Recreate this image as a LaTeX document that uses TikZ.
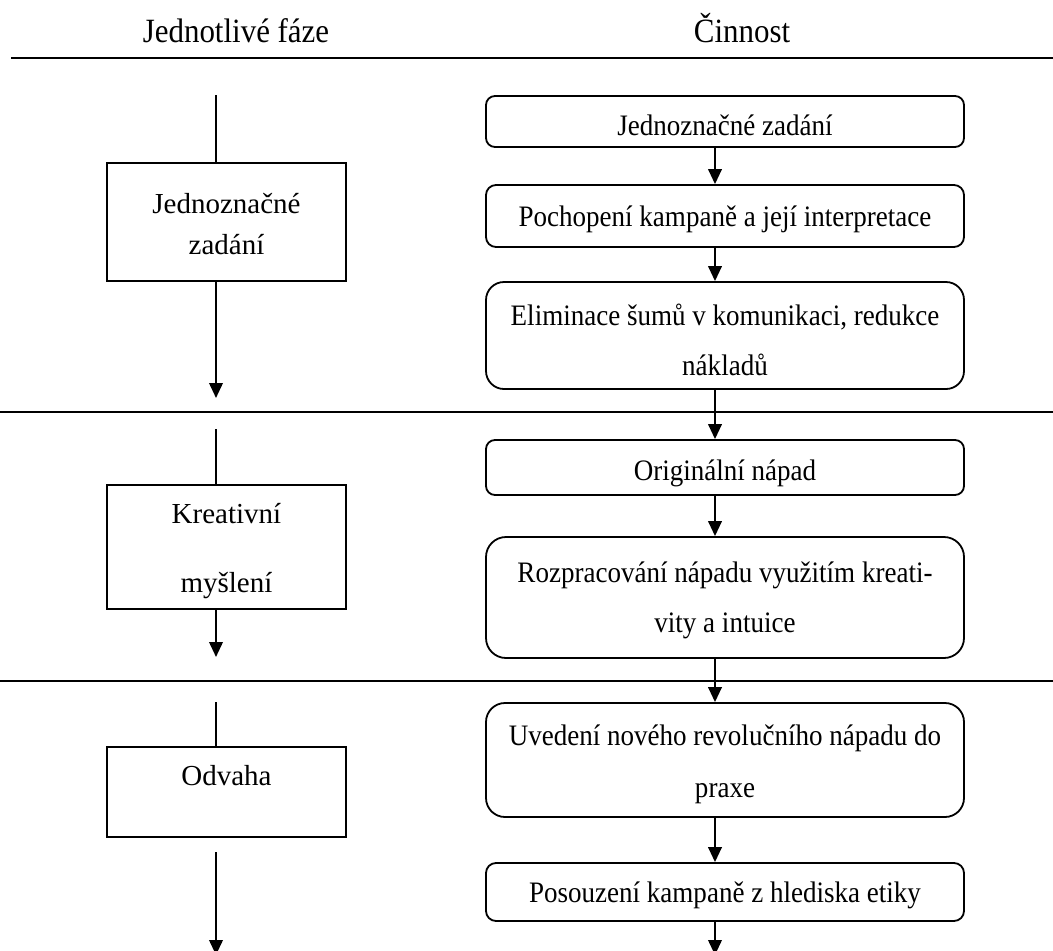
\documentclass[tikz,border=0pt]{standalone}
\usepackage{fontspec}
\setmainfont{Liberation Serif}
\newfontfamily\tallserif[FakeStretch=0.91]{Liberation Serif}
\usetikzlibrary{arrows.meta}
\begin{document}
\begin{tikzpicture}[x=1pt,y=-1pt,
  txt/.style={anchor=base,inner sep=0pt,font=\tallserif\fontsize{29.7}{30}\selectfont},
  ptxt/.style={anchor=base,inner sep=0pt,font=\fontsize{29}{29}\selectfont},
  head/.style={anchor=base,inner sep=0pt,font=\tallserif\fontsize{34}{34}\selectfont},
  phasebox/.style={draw,line width=1.8pt,minimum width=239pt,inner sep=0pt},
  stepbox/.style={draw,line width=1.8pt,minimum width=478pt,inner sep=0pt},
  sepline/.style={line width=2pt},
  feed/.style={line width=1.5pt},
  flow/.style={line width=2.2pt,-{Triangle[length=15pt,width=13.5pt]}}]
\useasboundingbox (0,0) rectangle (1053,951);

% column headings
\node[head] (h1) at (236,42) {Jednotlivé fáze};
\node[head] (h2) at (742,42) {Činnost};

% separators between the phases
\coordinate (s0a) at (11,58);   \coordinate (s0b) at (1053,58);
\coordinate (s1a) at (0,412);   \coordinate (s1b) at (1053,412);
\coordinate (s2a) at (0,681);   \coordinate (s2b) at (1053,681);
\draw[sepline,line width=2.6pt] (s0a) -- (s0b);
\draw[sepline] (s1a) -- (s1b);
\draw[sepline] (s2a) -- (s2b);

% x positions of the flow lines
\coordinate (L) at (216,0);
\coordinate (R) at (715,0);

% ---- phases (left column) ----
\node[phasebox,minimum height=118pt] (p1) at (226.5,222) {};
\node[ptxt] (p1a) at (226.5,213) {Jednoznačné};
\node[ptxt] (p1b) at (226.5,254) {zadání};

\node[phasebox,minimum height=124pt] (p2) at (226.5,547) {};
\node[ptxt] (p2a) at (226.5,523) {Kreativní};
\node[ptxt] (p2b) at (226.5,592) {myšlení};

\node[phasebox,minimum height=90pt] (p3) at (226.5,792) {};
\node[ptxt] (p3a) at (226.5,785) {Odvaha};

\coordinate (l1top) at (216,95);  \coordinate (l1end) at (216,398);
\coordinate (l2top) at (216,429); \coordinate (l2end) at (216,657);
\coordinate (l3top) at (216,702); \coordinate (l3beg) at (216,852);
\coordinate (l3end) at (216,955);
\draw[feed] (l1top) -- (l1top |- p1.north);
\draw[flow] (L |- p1.south) -- (l1end);
\draw[feed] (l2top) -- (l2top |- p2.north);
\draw[flow] (L |- p2.south) -- (l2end);
\draw[feed] (l3top) -- (l3top |- p3.north);
\draw[flow] (l3beg) -- (l3end);

% ---- activities (right column) ----
\node[stepbox,minimum height=51pt,rounded corners=9pt] (a1) at (725,121.5) {};
\node[txt] (a1t) at (725,135) {Jednoznačné zadání};

\node[stepbox,minimum height=62pt,rounded corners=10pt] (a2) at (725,216) {};
\node[txt] (a2t) at (725,226) {Pochopení kampaně a její interpretace};

\node[stepbox,minimum height=107pt,rounded corners=18pt] (a3) at (725,335.5) {};
\node[txt] (a3a) at (725,325) {Eliminace šumů v komunikaci, redukce};
\node[txt] (a3b) at (725,375) {nákladů};

\node[stepbox,minimum height=55pt,rounded corners=9pt] (a4) at (725,467.5) {};
\node[txt] (a4t) at (725,480) {Originální nápad};

\node[stepbox,minimum height=121pt,rounded corners=20pt] (a5) at (725,597.5) {};
\node[txt] (a5a) at (725,582) {Rozpracování nápadu využitím kreati-};
\node[txt] (a5b) at (725,632) {vity a intuice};

\node[stepbox,minimum height=114pt,rounded corners=19pt] (a6) at (725,760) {};
\node[txt] (a6a) at (725,745) {Uvedení nového revolučního nápadu do};
\node[txt] (a6b) at (725,797) {praxe};

\node[stepbox,minimum height=58pt,rounded corners=10pt] (a7) at (725,892) {};
\node[txt] (a7t) at (725,902) {Posouzení kampaně z hlediska etiky};

\coordinate (rend) at (715,955);
\draw[flow] (R |- a1.south) -- (R |- a2.north);
\draw[flow] (R |- a2.south) -- (R |- a3.north);
\draw[flow] (R |- a3.south) -- (R |- a4.north);
\draw[flow] (R |- a4.south) -- (R |- a5.north);
\draw[flow] (R |- a5.south) -- (R |- a6.north);
\draw[flow] (R |- a6.south) -- (R |- a7.north);
\draw[flow] (R |- a7.south) -- (rend);
\end{tikzpicture}
\end{document}
